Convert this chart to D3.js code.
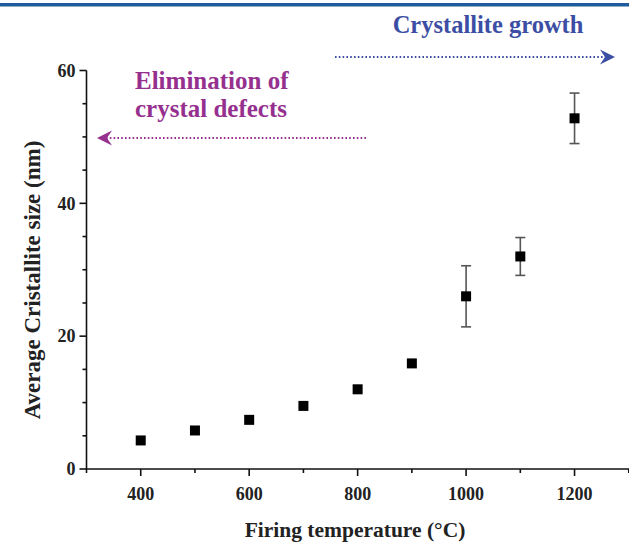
<!DOCTYPE html>
<html>
<head>
<meta charset="utf-8">
<script src="https://cdn.jsdelivr.net/npm/d3@7"></script>
<style>
  body { margin: 0; background: #fff; }
  svg { display: block; font-family: "Liberation Serif", "DejaVu Serif", serif; }
</style>
</head>
<body>
<div id="chart"></div>
<script>
// firing temperature vs average crystallite size
const temps = [400, 500, 600, 700, 800, 900, 1000, 1100, 1200]
const sizes = [4.3, 5.8, 7.4, 9.5, 12.0, 15.9, 26.0, 32.0, 52.8]
const errs = [0, 0, 0, 0, 0, 0, 4.6, 2.85, 3.8]
const xTicks = [400, 600, 800, 1000, 1200]
const yTicks = [0, 20, 40, 60]

let width = 629
let height = 548

var svg = d3.select("#chart")
    .append("svg")
    .attr("width", width)
    .attr("height", height)

// blue rule across the top
svg.append("rect")
    .attr("x", 0).attr("y", 3)
    .attr("width", width).attr("height", 3.5)
    .attr("fill", "#1f5c9e")

var x = d3.scaleLinear().domain([300, 1400]).range([86.5, 683])
var y = d3.scaleLinear().domain([0, 60]).range([469, 70.5])

// x axis
var xAxis = svg.append("g")
    .attr("transform", "translate(0," + y(0) + ")")
xAxis.append("line")
    .attr("x1", x(300)).attr("x2", width)
    .attr("stroke", "#111").attr("stroke-width", 1.6)
xAxis.selectAll("minor")
    .data(d3.range(300, 1400, 100))
    .enter()
    .append("line")
    .attr("x1", d => x(d)).attr("x2", d => x(d))
    .attr("y1", 0).attr("y2", d => xTicks.includes(d) ? 7 : 4)
    .attr("stroke", "#111").attr("stroke-width", 1.6)
xAxis.selectAll("labels")
    .data(xTicks)
    .enter()
    .append("text")
    .attr("x", d => x(d)).attr("y", 31)
    .attr("text-anchor", "middle")
    .style("font-size", "18px").style("font-weight", "bold")
    .attr("fill", "#222")
    .text(d => d)

// y axis
var yAxis = svg.append("g")
    .attr("transform", "translate(" + x(300) + ",0)")
yAxis.append("line")
    .attr("y1", y(0)).attr("y2", y(60))
    .attr("stroke", "#111").attr("stroke-width", 1.6)
yAxis.selectAll("minor")
    .data(d3.range(0, 61, 5))
    .enter()
    .append("line")
    .attr("y1", d => y(d)).attr("y2", d => y(d))
    .attr("x1", 0).attr("x2", d => yTicks.includes(d) ? -7 : -4)
    .attr("stroke", "#111").attr("stroke-width", 1.6)
yAxis.selectAll("labels")
    .data(yTicks)
    .enter()
    .append("text")
    .attr("x", -11).attr("y", d => y(d))
    .attr("dy", "0.35em")
    .attr("text-anchor", "end")
    .style("font-size", "18px").style("font-weight", "bold")
    .attr("fill", "#222")
    .text(d => d)

// axis titles
svg.append("text")
    .attr("x", 355).attr("y", 537)
    .attr("text-anchor", "middle")
    .style("font-size", "21.5px").style("font-weight", "bold")
    .attr("fill", "#222")
    .text("Firing temperature (°C)")

svg.append("text")
    .attr("transform", "translate(40,280) rotate(-90)")
    .attr("text-anchor", "middle")
    .style("font-size", "23px").style("font-weight", "bold")
    .attr("fill", "#222")
    .text("Average Cristallite size (nm)")

// error bars
var data = temps.map((t, i) => ({ t: t, v: sizes[i], e: errs[i] }))
var withErr = data.filter(d => d.e > 0)
var eb = svg.selectAll("err")
    .data(withErr)
    .enter()
    .append("g")
    .attr("stroke", "#555")
    .attr("stroke-width", 1.6)
eb.append("line")
    .attr("x1", d => x(d.t)).attr("x2", d => x(d.t))
    .attr("y1", d => y(d.v + d.e)).attr("y2", d => y(d.v - d.e))
eb.append("line")
    .attr("x1", d => x(d.t) - 5).attr("x2", d => x(d.t) + 5)
    .attr("y1", d => y(d.v + d.e)).attr("y2", d => y(d.v + d.e))
eb.append("line")
    .attr("x1", d => x(d.t) - 5).attr("x2", d => x(d.t) + 5)
    .attr("y1", d => y(d.v - d.e)).attr("y2", d => y(d.v - d.e))

// markers
let sq = 10
svg.selectAll("points")
    .data(data)
    .enter()
    .append("rect")
    .attr("x", d => x(d.t) - sq / 2)
    .attr("y", d => y(d.v) - sq / 2)
    .attr("width", sq).attr("height", sq)
    .attr("fill", "#000")

// annotations
function dottedArrow(x1, x2, yy, color, dir) {
    svg.append("line")
        .attr("x1", x1).attr("x2", x2)
        .attr("y1", yy).attr("y2", yy)
        .attr("stroke", color)
        .attr("stroke-width", 2.2)
        .attr("stroke-dasharray", "1.6,2.2")
    let tip = dir > 0 ? x2 + 9 : x1 - 9
    let back = tip - dir * 15
    let notch = tip - dir * 10
    svg.append("path")
        .attr("d", "M" + tip + "," + yy + " L" + back + "," + (yy - 7.5) +
            " L" + notch + "," + yy + " L" + back + "," + (yy + 7.5) + " Z")
        .attr("fill", color)
}

let blue = "#3c4ea3"
let purple = "#96308f"

svg.append("text")
    .attr("x", 488).attr("y", 33)
    .attr("text-anchor", "middle")
    .style("font-size", "24.5px").style("font-weight", "bold")
    .attr("fill", blue)
    .text("Crystallite growth")
dottedArrow(335, 606, 57, blue, 1)

svg.append("text")
    .attr("x", 135).attr("y", 89)
    .style("font-size", "25px").style("font-weight", "bold")
    .attr("fill", purple)
    .text("Elimination of")
svg.append("text")
    .attr("x", 135).attr("y", 117)
    .style("font-size", "25px").style("font-weight", "bold")
    .attr("fill", purple)
    .text("crystal defects")
dottedArrow(106, 367, 138, purple, -1)
</script>
</body>
</html>
